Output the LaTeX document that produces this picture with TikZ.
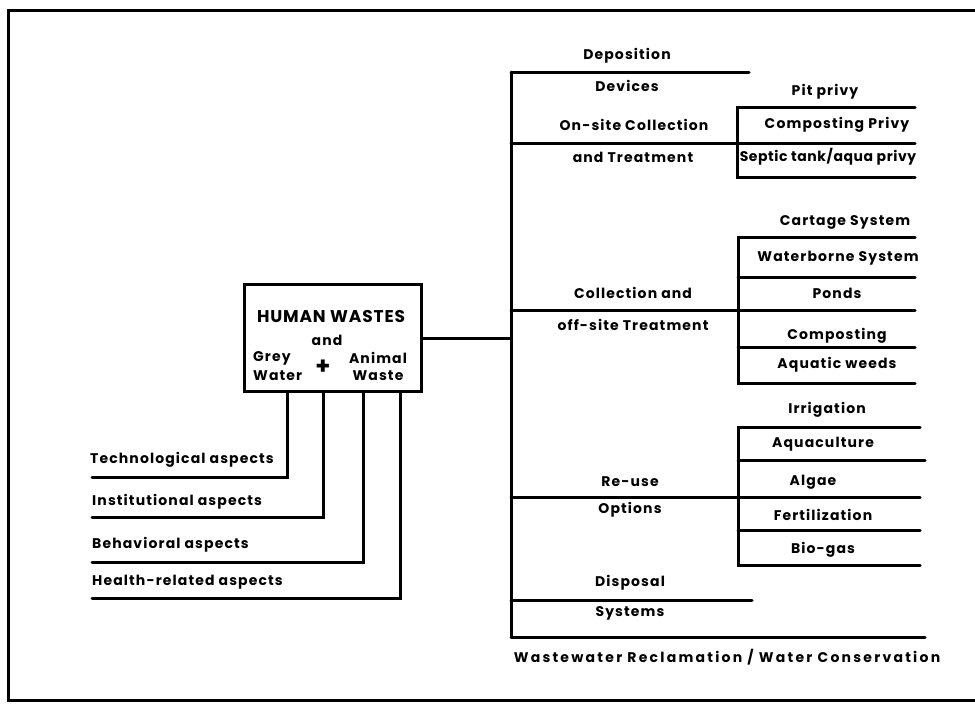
\documentclass[tikz,border=0pt]{standalone}
\usepackage{fontspec}
\setmainfont{Poppins}
\tikzset{
  lbl/.style={font=\fontsize{14}{16}\selectfont\bfseries\addfontfeatures{LetterSpace=8}, inner sep=0pt},
  tight/.style={font=\fontsize{14}{16}\selectfont\bfseries\addfontfeatures{LetterSpace=4}, inner sep=0pt},
  wide/.style={font=\fontsize{14}{16}\selectfont\bfseries\addfontfeatures{LetterSpace=16}, inner sep=0pt},
  big/.style={font=\fontsize{17}{19}\selectfont\bfseries\addfontfeatures{LetterSpace=5}, inner sep=0pt},
  rule/.style={line width=3pt, line cap=round, line join=miter},
}
\begin{document}
\begin{tikzpicture}[x=1pt,y=-1pt]
\useasboundingbox (0,0) rectangle (975,705);

% outer frame
\draw[line width=3pt] (975,10) -- (8,10) -- (8,700) -- (975,700);

% central box
\node[draw, line width=3pt, minimum width=177pt, minimum height=107pt,
      anchor=north west, inner sep=0pt] (hw) at (243,283) {};
\node[big] (hwa) at (331,317) {HUMAN WASTES};
\node[lbl] (hwb) at (327,340) {and};
\node[lbl, anchor=west] (grey) at (253,358) {Grey};
\node[lbl, anchor=west] (water) at (253,376) {Water};
\node[font=\fontsize{24}{24}\selectfont\bfseries, inner sep=0pt] (plus) at (323,367) {+};
\node[lbl] (animal) at (378,358) {Animal};
\node[lbl] (waste) at (378,376) {Waste};

% main trunk
\coordinate (t0) at (511,72);
\coordinate (t1) at (511,637);
\draw[rule] (t0) -- (t1);
\draw[rule] (hw.east) -- (hw.east -| t0);

% left aspect brackets
\coordinate (a1) at (287,477);
\coordinate (a2) at (323,517);
\coordinate (a3) at (363,562);
\coordinate (a4) at (400,598);
\foreach \c in {a1,a2,a3,a4}
  \draw[rule] (hw.south -| \c) -- (\c) -- (\c -| 92,0);
\node[lbl, anchor=west] (tech) at (90,460) {Technological aspects};
\node[lbl, anchor=west] (inst) at (92,502) {Institutional aspects};
\node[lbl, anchor=west] (beha) at (92,545) {Behavioral aspects};
\node[lbl, anchor=west] (heal) at (92,582) {Health-related aspects};

% right-hand horizontal rules from the trunk
\coordinate (r1) at (749,72);
\coordinate (r2) at (915,143);
\coordinate (r3) at (915,310);
\coordinate (r4) at (920,497);
\coordinate (r5) at (752,600);
\coordinate (r6) at (925,637);
\foreach \c in {r1,r2,r3,r4,r5,r6}
  \draw[rule] (t0 |- \c) -- (\c);

% sub-brackets
\coordinate (s1a) at (737,107); \coordinate (s1b) at (737,177);
\coordinate (s2a) at (738,237); \coordinate (s2b) at (738,383);
\coordinate (s3a) at (738,427); \coordinate (s3b) at (738,565);
\draw[rule] (915,107) -- (s1a) -- (s1b) -- (915,177);
\draw[rule] (915,237) -- (s2a) -- (s2b) -- (915,383);
\draw[rule] (s2a |- 0,277) -- (915,277);
\draw[rule] (s2a |- 0,347) -- (915,347);
\draw[rule] (920,427) -- (s3a) -- (s3b) -- (920,565);
\draw[rule] (s3a |- 0,460) -- (925,460);
\draw[rule] (s3a |- 0,530) -- (920,530);

% category labels
\node[lbl] (dep1) at (627,56) {Deposition};
\node[lbl] (dep2) at (627,86) {Devices};
\node[lbl] (on1) at (634,125) {On-site Collection};
\node[lbl] (on2) at (633,157) {and Treatment};
\node[lbl] (col1) at (633,293) {Collection and};
\node[lbl] (col2) at (633,325) {off-site Treatment};
\node[lbl] (re1) at (630,482) {Re-use};
\node[lbl] (re2) at (630,510) {Options};
\node[lbl] (dis1) at (630,583) {Disposal};
\node[lbl] (dis2) at (630,613) {Systems};
\node[wide] (ww) at (727,657) {Wastewater Reclamation / Water Conservation};

% option labels
\node[lbl] (pit) at (825,92) {Pit privy};
\node[lbl] (comp) at (837,125) {Composting Privy};
\node[tight] (sep) at (828,157) {Septic tank/aqua privy};
\node[lbl] (cart) at (845,222) {Cartage System};
\node[lbl] (wat) at (838,258) {Waterborne System};
\node[lbl] (pond) at (837,293) {Ponds};
\node[lbl] (compo) at (837,336) {Composting};
\node[lbl] (aqw) at (837,365) {Aquatic weeds};
\node[lbl] (irr) at (827,410) {Irrigation};
\node[lbl] (aqc) at (823,444) {Aquaculture};
\node[lbl] (alg) at (813,482) {Algae};
\node[lbl] (fert) at (823,515) {Fertilization};
\node[lbl] (bio) at (823,550) {Bio-gas};
\end{tikzpicture}
\end{document}
